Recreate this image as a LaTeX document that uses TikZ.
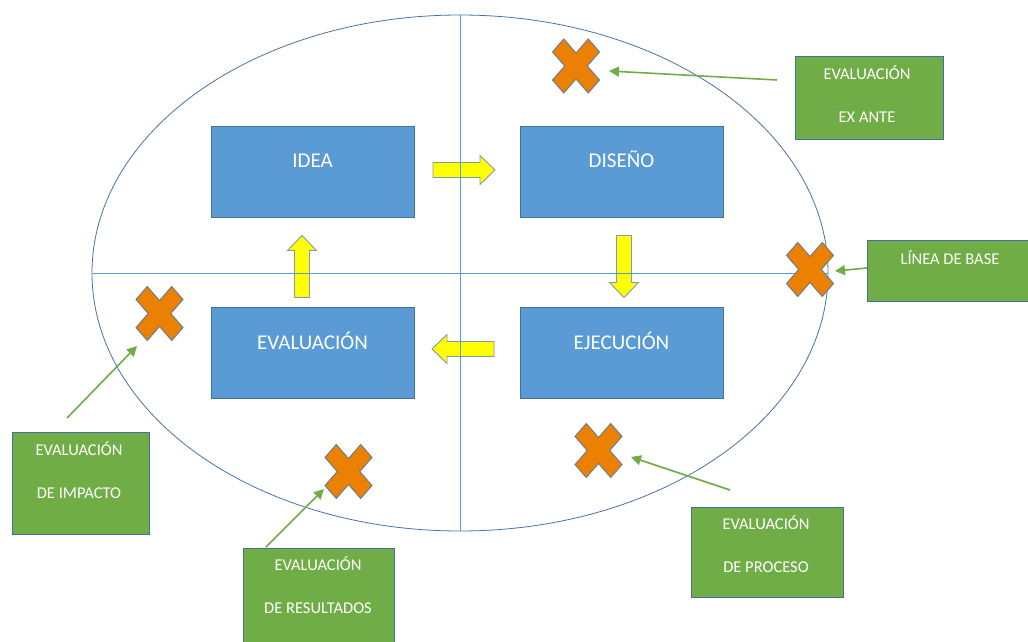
\documentclass[tikz,border=0pt]{standalone}
\usepackage{fontspec}
\setmainfont{Carlito}
\usetikzlibrary{shapes.geometric,arrows.meta,calc}
\definecolor{boxblue}{HTML}{5B9BD5}
\definecolor{boxedge}{HTML}{41719C}
\definecolor{ellline}{HTML}{4A72A8}
\definecolor{crossline}{HTML}{5B9BD5}
\definecolor{gfill}{HTML}{70AD47}
\definecolor{xorange}{HTML}{EC8000}
\definecolor{xedge}{HTML}{5E7E9C}
\definecolor{yfill}{HTML}{FFFF00}
\definecolor{yedge}{HTML}{8497B0}
\tikzset{
  bluebox/.style={draw=boxedge, fill=boxblue, line width=0.9pt, minimum width=203pt, minimum height=91pt, inner sep=0pt},
  bluetext/.style={text=white, font=\fontsize{21}{25}\selectfont, inner sep=0pt, text height=14pt, text depth=0pt},
  greenbox/.style={draw=boxedge, fill=gfill, line width=0.9pt, inner sep=0pt},
  greentext/.style={text=white, font=\fontsize{16.5}{43}\selectfont, align=center, inner sep=0pt},
  pointer/.style={draw=gfill, line width=1.6pt, -{Triangle[length=10pt,width=10pt]}},
  yarrowstyle/.style={draw=yedge, fill=yfill, line width=0.9pt},
  xmark/.style={draw=xedge, fill=xorange, line width=0.9pt},
  pics/yarrow/.style={code={
    \draw[yarrowstyle] (-31,-7.5) -- (16,-7.5) -- (16,-14.5) -- (31,0) -- (16,14.5) -- (16,7.5) -- (-31,7.5) -- cycle;}},
  pics/xcross/.style={code={
    \draw[xmark, xscale=0.94, yscale=1.08, rotate=45]
      (8.5,8.5) -- (26.9,8.5) -- (26.9,-8.5) -- (8.5,-8.5) -- (8.5,-26.9) -- (-8.5,-26.9) -- (-8.5,-8.5)
      -- (-26.9,-8.5) -- (-26.9,8.5) -- (-8.5,8.5) -- (-8.5,26.9) -- (8.5,26.9) -- cycle;}},
}
\begin{document}
\begin{tikzpicture}[x=1pt,y=-1pt]
\clip (0,0) rectangle (1028,642);
\fill[white] (0,0) rectangle (1028,642);

% ellipse
\node[draw=ellline, line width=0.8pt, ellipse, inner sep=0pt, minimum width=736pt, minimum height=516pt] (ell) at (460,273) {};

% blue boxes
\node[bluebox] (idea) at (312.5,171.5) {};
\node[bluebox] (diseno) at (621.5,171.5) {};
\node[bluebox] (evalu) at (312.5,352.5) {};
\node[bluebox] (ejec) at (621.5,352.5) {};
\node[bluetext] (tidea) at ($(idea.center)+(0,-11.5)$) {IDEA};
\node[bluetext] (tdiseno) at ($(diseno.center)+(0,-11.5)$) {DISEÑO};
\node[bluetext] (tevalu) at ($(evalu.center)+(0,-10)$) {EVALUACIÓN};
\node[bluetext] (tejec) at ($(ejec.center)+(0,-10.5)$) {EJECUCIÓN};

% yellow arrows
\pic (yright) at (464,170) {yarrow};
\pic[rotate=-90] (ydown) at (624,266.5) {yarrow};
\pic[rotate=180] (yleft) at (463,349) {yarrow};
\pic[rotate=90] (yup) at (302,266.5) {yarrow};

% axes
\draw[crossline, line width=0.8pt] (ell.north) -- (ell.south);
\draw[crossline, line width=0.8pt] (ell.west) -- (ell.east);

% orange crosses
\pic (x1) at (576,66) {xcross};
\pic (x2) at (810,269.5) {xcross};
\pic (x3) at (159.5,313.5) {xcross};
\pic (x4) at (348.5,471.5) {xcross};
\pic (x5) at (598.5,450.5) {xcross};

% green boxes
\node[greenbox, minimum width=148pt, minimum height=83pt] (exante) at (869,97.5) {};
\node[greenbox, minimum width=165pt, minimum height=61pt] (linea) at (949.5,270.5) {};
\node[greenbox, minimum width=137pt, minimum height=102pt] (impacto) at (80.5,483) {};
\node[greenbox, minimum width=151pt, minimum height=98pt] (result) at (318.5,597) {};
\node[greenbox, minimum width=152pt, minimum height=90pt] (proceso) at (767,552) {};

\node[greentext] (texante) at (867,94) {EVALUACIÓN\\EX ANTE};
\node[greentext, text height=12pt, text depth=0pt] (tlinea) at (950,258) {LÍNEA DE BASE};
\node[greentext] (timpacto) at (79,470) {EVALUACIÓN\\DE IMPACTO};
\node[greentext] (tresult) at (318,585.5) {EVALUACIÓN\\DE RESULTADOS};
\node[greentext] (tproceso) at (766,544.5) {EVALUACIÓN\\DE PROCESO};

% pointers
\coordinate (s1) at (777,80);   \coordinate (e1) at (609,71);
\coordinate (s2) at (867,268);  \coordinate (e2) at (835,271);
\coordinate (s3) at (67,418);   \coordinate (e3) at (137,346);
\coordinate (s4) at (266,547);  \coordinate (e4) at (324,489);
\coordinate (s5) at (730,490);  \coordinate (e5) at (631,457);
\draw[pointer] (s1) -- (e1);
\draw[pointer] (s2) -- (e2);
\draw[pointer] (s3) -- (e3);
\draw[pointer] (s4) -- (e4);
\draw[pointer] (s5) -- (e5);
\end{tikzpicture}
\end{document}
